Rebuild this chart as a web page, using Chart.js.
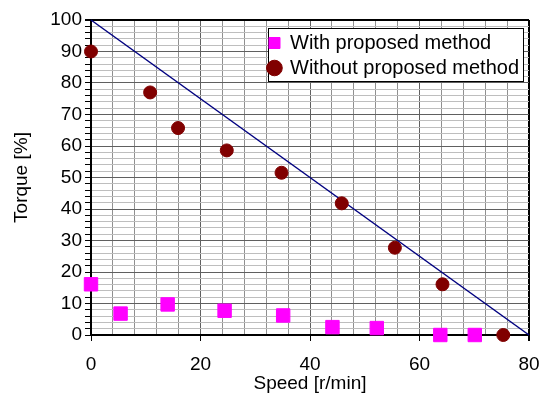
<!DOCTYPE html>
<html lang="en">
	<head>
		<meta charset="utf-8"/>
		<title>Torque vs Speed</title>
		<script src="https://cdn.jsdelivr.net/npm/chart.js@4.4.1/dist/chart.umd.min.js"></script>
		<style>
			body {
				margin: 0;
				background-color: #FFFFFF;
			}
			canvas {
				display: block;
			}
		</style>
	</head>

	<body>
		<canvas id="myChart" width="548" height="396"></canvas>

		<script>
			// values
			const speedWith = [0, 5.4, 14.0, 24.4, 35.1, 44.1, 52.2, 63.8, 70.1];
			const torqueWith = [16.1, 6.8, 9.7, 7.7, 6.2, 2.5, 2.2, 0, 0];
			const speedWithout = [0, 10.8, 15.9, 24.8, 34.8, 45.8, 55.5, 64.2, 75.3];
			const torqueWithout = [90, 77.0, 65.7, 58.6, 51.5, 41.8, 27.7, 16.1, 0];
			const limitSpeed = [0, 80];
			const limitTorque = [100, 0];

			const seriesNames = ['With proposed method', 'Without proposed method'];
			const xTitle = 'Speed [r/min]';
			const yTitle = 'Torque [%]';

			function toPoints(xs, ys) {
				return xs.map((x, i) => ({x: x, y: ys[i]}));
			}

			const font = "'Liberation Sans', Arial, sans-serif";

			// white framed legend box inside the plot, like the original
			const legendBox = {
				id: 'legendBox',
				afterLayout(chart) {
					const lg = chart.legend;
					lg.left = chart.chartArea.right - 265;
					lg.top = chart.chartArea.top + 8;
				},
				beforeDatasetsDraw(chart) {
					const ctx = chart.ctx;
					const a = chart.chartArea;
					ctx.save();
					ctx.fillStyle = '#FFFFFF';
					ctx.strokeStyle = '#000000';
					ctx.lineWidth = 1;
					ctx.fillRect(a.right - 261, a.top + 8, 255, 53);
					ctx.strokeRect(a.right - 261 + 0.5, a.top + 8 + 0.5, 255, 53);
					ctx.restore();
					chart.legend.draw();
				}
			};

			let ch1 = document.getElementById('myChart').getContext('2d');
			let chart1 = new Chart(ch1, {
				type: 'scatter',
				data: {
					datasets: [
						{
							label: seriesNames[0],
							data: toPoints(speedWith, torqueWith),
							pointStyle: 'rect',
							pointRadius: 9.5,
							pointHoverRadius: 9.5,
							backgroundColor: '#FF00FF',
							borderColor: '#FF00FF',
							borderWidth: 1,
							clip: false
						},
						{
							label: seriesNames[1],
							data: toPoints(speedWithout, torqueWithout),
							pointStyle: 'circle',
							pointRadius: 6.5,
							pointHoverRadius: 6.5,
							backgroundColor: '#800000',
							borderColor: '#800000',
							borderWidth: 1,
							clip: false
						},
						{
							label: 'limit',
							data: toPoints(limitSpeed, limitTorque),
							showLine: true,
							pointRadius: 0,
							borderColor: '#000080',
							backgroundColor: '#000080',
							borderWidth: 1.5,
							clip: false
						}
					]
				},
				options: {
					responsive: false,
					animation: false,
					layout: {
						padding: {top: 20, right: 19, bottom: 0, left: 0}
					},
					plugins: {
						tooltip: {enabled: false},
						legend: {
							position: 'chartArea',
							align: 'start',
							labels: {
								filter: (item) => item.datasetIndex < 2,
								usePointStyle: true,
								boxWidth: 11,
								boxHeight: 11,
								padding: 5,
								color: '#000000',
								font: {family: font, size: 20}
							}
						}
					},
					scales: {
						x: {
							type: 'linear',
							min: 0,
							max: 80,
							afterFit: (s) => { s.height = 61; s.paddingLeft = 0; s.paddingRight = 0; },
							border: {display: true, color: '#000000', width: 2},
							grid: {
								color: (c) => c.tick.value === 80 ? '#000000' : (c.tick.value % 20 === 0 ? '#606060' : '#909090'),
								lineWidth: (c) => c.tick.value === 80 ? 2 : 1,
								tickColor: (c) => c.tick.value % 20 === 0 ? '#000000' : 'rgba(0,0,0,0)',
								tickLength: 6
							},
							ticks: {
								stepSize: 4,
								autoSkip: false,
								maxRotation: 0,
								padding: 12,
								color: '#000000',
								font: {family: font, size: 19},
								callback: (v) => v % 20 === 0 ? v : ''
							},
							title: {
								display: true,
								text: xTitle,
								color: '#000000',
								padding: {top: 0, bottom: 1},
								font: {family: font, size: 19}
							}
						},
						y: {
							type: 'linear',
							min: 0,
							max: 100,
							afterFit: (s) => { s.width = 91; s.paddingTop = 0; s.paddingBottom = 0; },
							border: {display: true, color: '#000000', width: 2},
							grid: {
								color: (c) => c.tick.value === 100 ? '#000000' : (c.tick.value % 10 === 0 ? '#606060' : '#BEBEBE'),
								lineWidth: (c) => c.tick.value === 100 ? 2 : 1,
								tickColor: '#000000',
								tickLength: 6
							},
							ticks: {
								stepSize: 2,
								autoSkip: false,
								padding: 3,
								color: '#000000',
								font: {family: font, size: 19},
								callback: (v) => v % 10 === 0 ? v : ''
							},
							title: {
								display: true,
								text: yTitle,
								color: '#000000',
								padding: {top: 10, bottom: 0},
								font: {family: font, size: 19}
							}
						}
					}
				},
				plugins: [legendBox]
			});
		</script>
	</body>
</html>
